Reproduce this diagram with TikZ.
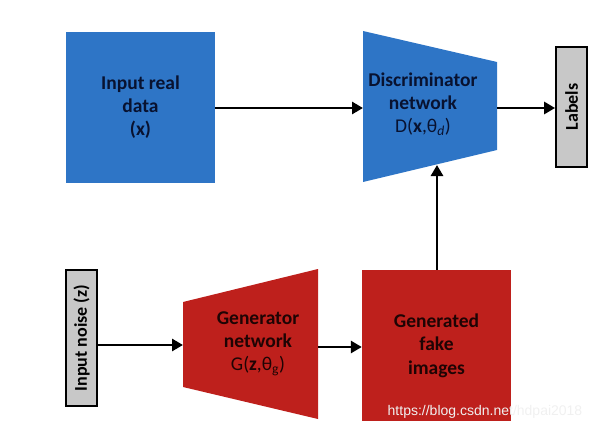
\documentclass[tikz,border=0pt]{standalone}
\usepackage{fontspec}
\setmainfont{Carlito}
\newfontfamily\urlfont{Liberation Sans}
\usetikzlibrary{arrows.meta, positioning}
\definecolor{realblue}{RGB}{46,117,198}
\definecolor{fakered}{RGB}{190,32,28}
\definecolor{tagGray}{RGB}{200,200,200}
\definecolor{navytext}{RGB}{8,18,48}
\definecolor{redtext}{RGB}{30,4,4}

\begin{document}
\begin{tikzpicture}[x=1pt, y=-1pt,
  bluebox/.style={rectangle, fill=realblue, minimum width=149pt, minimum height=151pt,
                  inner sep=0pt, text=navytext, align=center,
                  font=\bfseries\fontsize{19.5}{23}\selectfont},
  redbox/.style={rectangle, fill=fakered, minimum width=149pt, minimum height=151pt,
                 inner sep=0pt, text=redtext, align=center,
                 font=\bfseries\fontsize{19.5}{23.5}\selectfont},
  nettext/.style={align=center, inner sep=0pt, font=\bfseries\fontsize{19.5}{23}\selectfont},
  tagbox/.style={rectangle, draw=black, line width=1.8pt, fill=tagGray, rotate=90,
                 inner sep=0pt, font=\bfseries\fontsize{18}{20}\selectfont},
  arrow/.style={-{Triangle[length=11pt, width=12pt]}, line width=2.8pt, black}
]
\useasboundingbox (0,0) rectangle (605,433);

% top row
\node[bluebox] (real) at (140.5,107.5) {Input real\\data\\(x)};

\fill[realblue] (363,31) -- (497,62) -- (497,150) -- (363,182) -- cycle;
\coordinate (discin)  at (363,108);
\coordinate (discout) at (497,108);
\coordinate (discbot) at (437,165);
\node[nettext, text=navytext] (disc) at (423,104)
  {Discriminator\\network\\{\mdseries D(\textbf{x},θ\textsubscript{\textit{d}})}};

\node[tagbox, minimum width=120pt, minimum height=31pt] (labels) at (571.5,107) {Labels};

% bottom row
\node[tagbox, minimum width=136pt, minimum height=31pt] (noise) at (81.5,338) {Input noise (z)};

\fill[fakered] (183,302) -- (318,269) -- (318,419) -- (183,387) -- cycle;
\coordinate (genin)  at (183,345);
\coordinate (genout) at (318,347);
\node[nettext, text=redtext] (gen) at (258,344)
  {Generator\\network\\{\mdseries G(\textbf{z},θ\textsubscript{g})}};

\node[redbox] (fake) at (436.5,345.5) {Generated\\fake\\images};

% connectors
\draw[arrow] (real.east |- discin) -- (discin);
\draw[arrow] (discout) -- (labels.north |- discout);
\draw[arrow] (noise.south |- genin) -- (genin);
\draw[arrow] (genout) -- (fake.west |- genout);
\draw[arrow] (fake.north -| discbot) -- (discbot);

% watermark
\node[text=white!88!gray, font=\urlfont\fontsize{14}{16}\selectfont, inner sep=0pt]
  (mark) at (485,412) {https://blog.csdn.net/hdpai2018};
\end{tikzpicture}
\end{document}
